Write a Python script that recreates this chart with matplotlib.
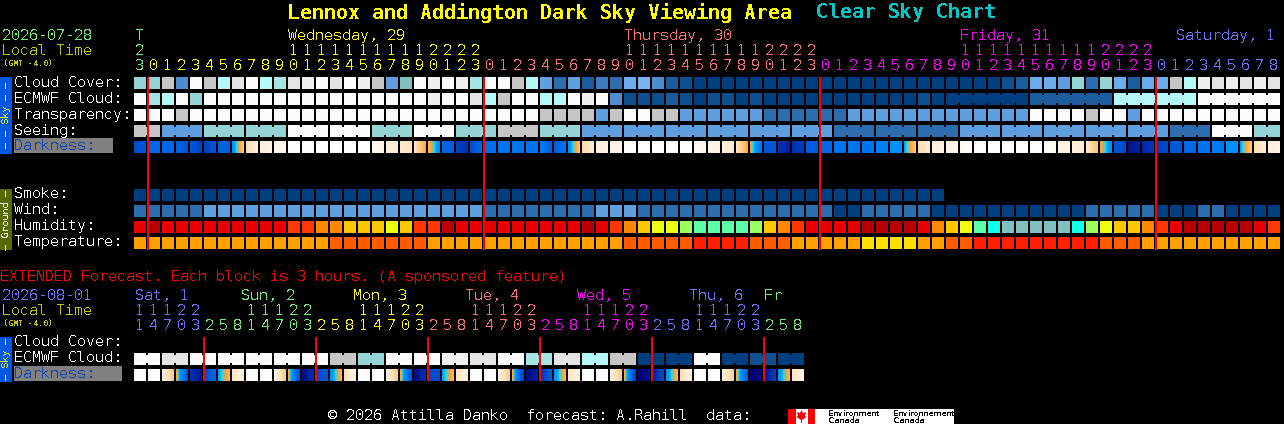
import numpy as np
import matplotlib
matplotlib.use('Agg')
import matplotlib.pyplot as plt
from matplotlib.colors import LinearSegmentedColormap
from matplotlib.patches import Polygon

plt.rcParams['text.antialiased'] = False
plt.rcParams['text.hinting'] = 'native'
plt.rcParams['text.hinting_factor'] = 1
plt.rcParams['font.family'] = ['DejaVu Sans Mono']

# palettes, the rows below index into these
SKY = ['#fcfcfc', '#f0f0f0', '#e4e4e4', '#c6c6c6', '#b4f8f8', '#a6e4e4', '#94d4d4', '#7fbfbf',
       '#78b4f0', '#6cacec', '#5f9fe0', '#4e8ed0', '#3c7cbe', '#2d6dae', '#1c5c9c', '#0e4f8f', '#003f7f']
HUM = {'r': '#e60000', 'd': '#b80000', 'o': '#ff3800', 'a': '#ff8800', 'y': '#ffc800',
       'l': '#ecff10', 'g': '#9cff60', 'm': '#5cffa8', 'c': '#10ffe8', 't': '#80c0c0'}
TEMP = {'o': '#ffa000', 'f': '#ff5c00', 'r': '#ff2000', 'y': '#ffe000'}
DARK_STOPS = [(0, '#000070'), (1, '#0020a0'), (2, '#0040c0'), (3, '#0058d8'), (4, '#0068e8'), (5, '#0080f8'),
              (6, '#00a0ff'), (6.5, '#30d8e0'), (7, '#ffa030'), (8, '#ffc880'), (9, '#ffe4c0'), (10, '#fff2e2'),
              (11, '#ffffff')]

# main block, one value an hour
hours = [23] + list(range(24)) * 3 + list(range(9))
hour_days = [0] + [1] * 24 + [2] * 24 + [3] * 24 + [4] * 9
day_colors = ['#70f070', '#ffff00', '#ff7070', '#ff00ff', '#7070ff']

cloud_cover = [6, 6, 3, 11, 0, 3, 4, 2, 0, 4, 5, 2, 1, 0, 2, 0, 1, 3, 10, 7, 0,
               1, 0, 1, 5, 0, 0, 3, 4, 10, 13, 10, 14, 12, 13, 9, 8, 11, 14, 15, 16] + [16] * 21 + \
              [15, 14, 9, 9, 10, 6, 13, 6, 9, 14, 9, 9, 3, 4, 1, 2, 1, 2, 1, 2]
ecmwf_cloud = [0, 5, 4, 0, 6] + [0] * 16 + \
              [1, 0, 0, 2, 4, 3, 0, 0, 4, 4, 0, 1, 0, 11, 15, 15, 15, 14, 15, 16, 15, 15, 16, 15] + [16] * 7 + \
              [16, 16, 16, 16, 15, 16] + [16] * 6 + [14] * 6 + [4] * 6 + [0] * 6
transparency = [0, 0, 0, 3] + [0] * 25 + [3, 3, 3, 3, 10, 3, 0, 0, 3, 3] + [10] * 6 + [13] * 6 + [10] * 13 + \
               [0, 0, 0, 0, 3, 0, 0, 10] + [0] * 10
seeing = [3, 3] + [10] * 3 + [6] * 6 + [0] * 6 + [6] * 3 + [0] * 3 + [6] * 3 + [3] * 3 + [6] * 3 + [10] * 18 + \
         [13] * 9 + [10] * 15 + [13] * 3 + [0] * 3 + [6] * 2
smoke = [16] * 58
wind = [13] * 5 + [10] * 20 + [13] * 8 + [10] * 3 + [13] * 14 + [16] * 2 + [13] * 5 + [16] * 11 + \
       [13] * 5 + [16] * 3 + [13] * 2 + [16] * 4
humidity = list('rd' + 'r' * 9 + 'ooaayyyly' + 'o' + 'odrr' + 'r' * 7 + 'dro' + 'ayllgmmmmgyaor' + 'rrr' +
                'dddd' + 'raylmc' + 'ttttt' + 'cglyyao' + 'r' + 'ddddd' + 'ro')
temperature = list('o' * 14 + 'f' * 7 + 'o' * 14 + 'f' * 5 + 'r' * 4 + 'f' * 3 + 'o' * 5 +
                   'yyyy' + 'oo' + 'ff' + 'r' * 9 + 'fff' + 'o' * 10)
dark_left = [2.5, 4, 4, 3.5, 3, 2, 3.5, 5.5, 8.7, 9.8, 10.2] + [11] * 6 + [10.6, 9.8, 9.4, 9,
             7.5, 4, 2.2, 2.5, 4, 4.5, 4.5, 4.5, 5, 3.4, 5.5, 8.7, 9.8, 10.2] + [11] * 5 + \
            [10.6, 10.2, 9.8, 9, 7, 3, 1.5, 1.5, 3.4, 4, 4.5, 4.5, 4.5, 5, 5.5, 6, 8.7, 9.8, 10.2, 10.6] + [11] * 5 + \
            [10.8, 10.2, 9.8, 9.2, 7.2, 3, 0.6, 1.2, 2, 3, 4, 4.5, 5, 5.5, 6, 8.7, 9.8]
dark_right = [3, 4, 4, 3, 2, 3, 3.5, 8, 9.8, 10, 10.6] + [11] * 6 + [10.2, 9.6, 9, 7.2,
              5.5, 3.5, 1.5, 4, 4.5, 4.5, 4.5, 4.5, 3.4, 4.5, 7.8, 9.6, 10, 10.2] + [11] * 5 + \
             [10.4, 10, 9.4, 7.2, 4.5, 3, 1, 2, 3.4, 4, 4.5, 4.5, 4.5, 5, 5.5, 8, 9.4, 10, 10.4, 10.8] + [11] * 5 + \
             [10.6, 10, 9.6, 7.8, 5.5, 2.5, 1, 1.8, 2.5, 3, 4, 4.5, 4.5, 5.5, 8, 9.6, 10]

# extended block, 3 hours a column
ext_hours = [11, 14, 17, 20, 23, 2, 5, 8] * 6
ext_days = [4] * 5 + [0] * 8 + [1] * 8 + [2] * 8 + [3] * 8 + [4] * 8 + [0] * 3
ext_day_labels = [('Sat, 1', 135, '#7070ff'), ('Sun, 2', 241, '#70f070'), ('Mon, 3', 353, '#ffff00'),
                  ('Tue, 4', 465, '#ff7070'), ('Wed, 5', 577, '#ff00ff'), ('Thu, 6', 689, '#7070ff'),
                  ('Fr', 764, '#70f070')]
ext_ecmwf = [0, 2, 0, 0, 0, 0, 0, 3, 6, 0, 0, 1, 2, 0, 5, 2, 4, 3, 16, 16, 0, 16, 15, 16]
ext_dark_left = [11, 11, 9.8, 7.2, 1.5, 2.5, 6, 9, 11, 11, 10.2, 7.2, 0.3, 2.5, 5.5, 8.7, 11, 11, 9.8, 7.2, 0.3, 2.5,
                 6, 9, 11, 11, 10, 7.2, 0.3, 1.5, 5.5, 9, 11, 11, 9.8, 7.2, 0, 1, 5.5, 8.7, 11, 11, 9.8, 7.2, 0, 0.6,
                 5.5, 9]
ext_dark_right = [11, 11, 8, 3, 0.7, 4, 7.5, 10.2, 11, 11, 8, 2.5, 1.5, 3, 7.5, 10.4, 11, 11, 8, 3, 1.5, 2.5,
                  7.5, 10.2, 11, 11, 8, 2, 1, 3.4, 7.5, 10.2, 11, 11, 8, 2, 0.6, 2.5, 7.5, 10.2, 11, 11, 8.2, 3.4,
                  0.3, 2, 7.5, 10.2]

main_lines = [0.5, 24.5, 48.5, 72.5]
ext_lines = [4.5, 12.5, 20.5, 28.5, 36.5, 44.5]

X0, PITCH, CELL = 134, 14, 12
MONO = 10.8  # 9 px a char


def cell_row(ax, y, colors):
    xs = X0 + PITCH * np.arange(len(colors))
    ax.bar(xs, CELL, width=CELL, bottom=y, color=colors, align='edge', linewidth=0)


def links(ax, y, colors, groups):
    # joined blocks have a short bridge over the gap
    for start, size in groups:
        for i in range(start, start + size - 1):
            ax.bar(X0 + PITCH * i + CELL, 8, width=PITCH - CELL, bottom=y + 2, color=colors[i], align='edge',
                   linewidth=0)


def dark_row(ax, y, left, right, cmap):
    for i, (a, b) in enumerate(zip(left, right)):
        x = X0 + PITCH * i
        shade = np.linspace(a, b, CELL)[np.newaxis, :]
        ax.imshow(shade, cmap=cmap, vmin=0, vmax=11, extent=(x, x + CELL, y + CELL, y), aspect='auto',
                  interpolation='nearest')


def label(ax, x, y, s, color='white', size=MONO, **kw):
    # text sits one pixel under the row centre
    ax.text(x, y + 1, s, color=color, size=size, va='center', **kw)


def side_bar(ax, y0, y1, color, text, text_color):
    ax.bar(0, y1 - y0, width=12, bottom=y0, color=color, align='edge', linewidth=0)
    ax.text(6, (y0 + y1) / 2, text, color=text_color, size=7.2, rotation=90, ha='center', va='center')


fig = plt.figure(figsize=(12.84, 4.24), dpi=100, facecolor='black')
ax = fig.add_axes([0, 0, 1, 1])
ax.set_facecolor('black')
ax.axis('off')

cmap = LinearSegmentedColormap.from_list('dark', [(v / 11, c) for v, c in DARK_STOPS], N=512)

# title
label(ax, 288, 12, 'Lennox and Addington Dark Sky Viewing Area', '#ffff00', 14.4, weight='bold')
label(ax, 816, 12, 'Clear Sky Chart', '#00c8c8', 14.4, weight='bold')

# main header
label(ax, 2, 35, '2026-07-28', '#70f070')
label(ax, 2, 50, 'Local Time', '#c8c800')
label(ax, 3, 62.5, '(GMT -4.0)', '#c8c800', 5.9, weight='bold')
label(ax, 135, 35, 'T', day_colors[0])
label(ax, 288, 35, 'Wednesday, 29', day_colors[1])
label(ax, 624, 35, 'Thursday, 30', day_colors[2])
label(ax, 960, 35, 'Friday, 31', day_colors[3])
label(ax, 1176, 35, 'Saturday, 1', day_colors[4])
for i, (h, d) in enumerate(zip(hours, hour_days)):
    x = X0 + PITCH * i + 1
    if h >= 10:
        label(ax, x, 50, str(h // 10), day_colors[d])
    label(ax, x, 65, str(h % 10), day_colors[d])

# sky rows
side_bar(ax, 77, 154, '#0058e0', '\u2013 \u2013 Sky \u2013 \u2013', '#ffff00')
rows = [('Cloud Cover:', 77, cloud_cover), ('ECMWF Cloud:', 93, ecmwf_cloud), ('Transparency:', 109, transparency),
        ('Seeing:', 125, seeing)]
for name, y, vals in rows:
    label(ax, 14, y + 5, name)
    cell_row(ax, y, [SKY[v] for v in vals])
seeing_colors = [SKY[v] for v in seeing]
links(ax, 125, seeing_colors, [(0, 2)] + [(s, 3) for s in range(2, 80, 3)] + [(80, 2)])
ecmwf_colors = [SKY[v] for v in ecmwf_cloud]
links(ax, 93, ecmwf_colors, [(s, 6) for s in range(58, 82, 6)])
ax.bar(14, 15, width=99, bottom=138, color='#808080', align='edge', linewidth=0)
label(ax, 14, 145, 'Darkness:', '#1040a8')
dark_row(ax, 141, dark_left, dark_right, cmap)

# ground rows
side_bar(ax, 189, 250, '#556b00', '\u2013 Ground \u2013', '#f0f0f0')
label(ax, 14, 193, 'Smoke:')
cell_row(ax, 189, [SKY[v] for v in smoke])
label(ax, 14, 209, 'Wind:')
cell_row(ax, 205, [SKY[v] for v in wind])
label(ax, 14, 225, 'Humidity:')
cell_row(ax, 221, [HUM[v] for v in humidity])
label(ax, 14, 241, 'Temperature:')
cell_row(ax, 237, [TEMP[v] for v in temperature])

for c in main_lines:
    x = X0 + PITCH * c + CELL / 2
    ax.bar(x, 173, width=2, bottom=77, color='#ff0000', align='edge', linewidth=0)

# extended forecast
label(ax, 0, 276, 'EXTENDED Forecast. Each block is 3 hours. (A sponsored feature)', '#ff0000')
label(ax, 2, 295, '2026-08-01', '#7070ff')
label(ax, 2, 310, 'Local Time', '#c8c800')
label(ax, 3, 322.5, '(GMT -4.0)', '#c8c800', 5.9, weight='bold')
for name, x, color in ext_day_labels:
    label(ax, x, 295, name, color)
for i, (h, d) in enumerate(zip(ext_hours, ext_days)):
    x = X0 + PITCH * i + 1
    if h >= 10:
        label(ax, x, 310, str(h // 10), day_colors[d])
    label(ax, x, 325, str(h % 10), day_colors[d])

side_bar(ax, 337, 382, '#0058e0', '\u2013 Sky \u2013', '#ffff00')
label(ax, 14, 341, 'Cloud Cover:')
label(ax, 14, 357, 'ECMWF Cloud:')
ext_colors = [SKY[v] for v in ext_ecmwf]
ax.bar(X0 + 2 * PITCH * np.arange(24), CELL, width=CELL, bottom=353, color=ext_colors, align='edge', linewidth=0)
ax.bar(X0 + PITCH + 2 * PITCH * np.arange(24), CELL, width=CELL, bottom=353, color=ext_colors, align='edge',
       linewidth=0)
ax.bar(X0 + CELL + 2 * PITCH * np.arange(24), 8, width=PITCH - CELL, bottom=355, color=ext_colors, align='edge',
       linewidth=0)
ax.bar(14, 15, width=108, bottom=366, color='#808080', align='edge', linewidth=0)
label(ax, 14, 373, 'Darkness:', '#1040a8')
dark_row(ax, 369, ext_dark_left, ext_dark_right, cmap)
for c in ext_lines:
    x = X0 + PITCH * c + CELL / 2
    ax.bar(x, 44, width=2, bottom=337, color='#ff0000', align='edge', linewidth=0)

# footer with the logo strip
label(ax, 328, 415, '\u00a9 2026 Attilla Danko  forecast: A.Rahill  data:')
ax.bar(788, 15, width=166, bottom=409, color='white', align='edge', linewidth=0)
ax.bar(788, 15, width=8, bottom=409, color='#ff0000', align='edge', linewidth=0)
ax.bar(807.5, 15, width=7.5, bottom=409, color='#ff0000', align='edge', linewidth=0)
ax.add_patch(Polygon([(801.5, 410), (803, 413), (806, 412), (805, 416), (806.5, 417), (802, 420), (802, 423),
                      (801, 423), (801, 420), (796.5, 417), (798, 416), (797, 412), (800, 413)],
                     closed=True, facecolor='#ff0000', edgecolor='none'))
for x, name in [(828, 'Environment'), (893, 'Environnement')]:
    ax.text(x, 413, name, color='black', size=5.5, va='center', family='DejaVu Sans')
    ax.text(x, 420.5, 'Canada', color='black', size=5.5, va='center', family='DejaVu Sans')

ax.set_xlim(0, 1284)
ax.set_ylim(424, 0)
fig.savefig('out.png', dpi=100, facecolor='black')
